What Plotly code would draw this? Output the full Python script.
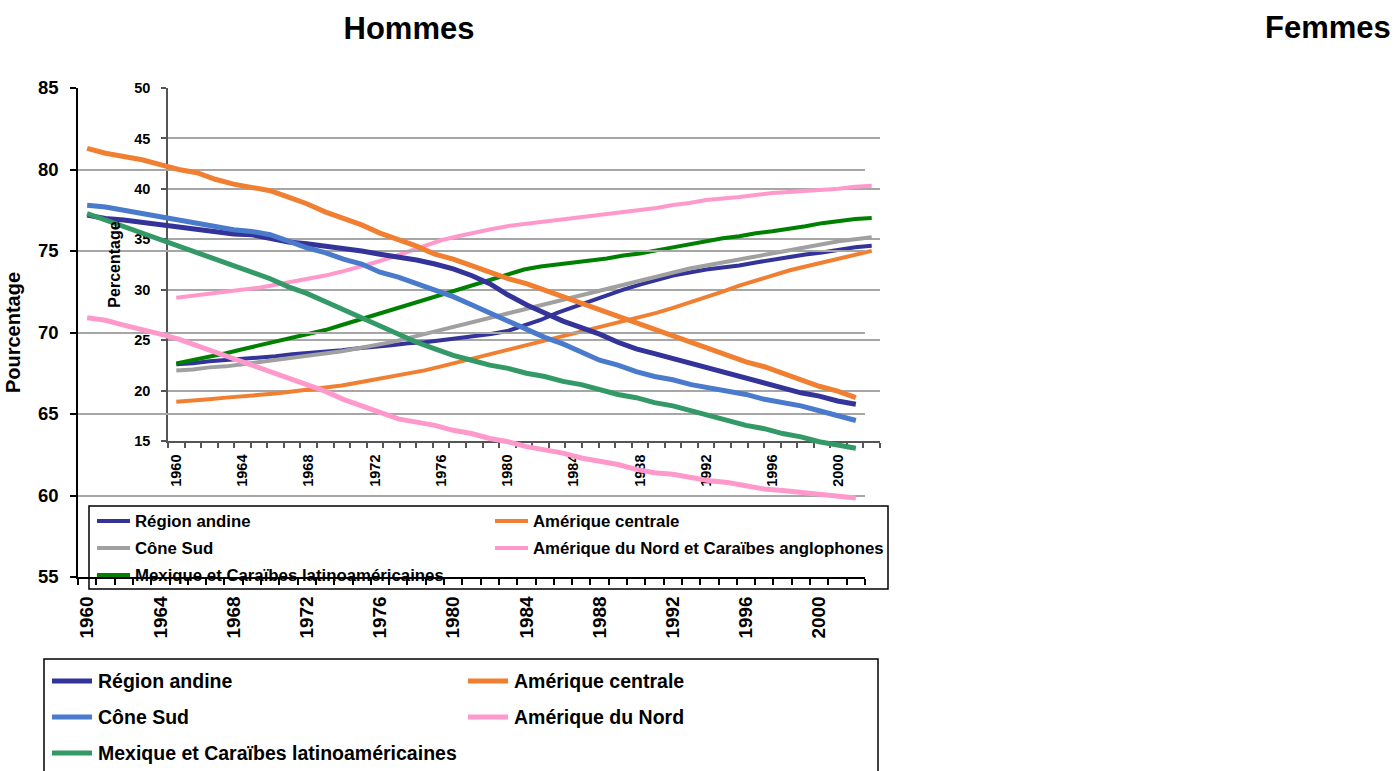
import plotly.graph_objects as go

W, H = 1396, 771

years = list(range(1960, 2003))
tick_years = list(range(1960, 2001, 4))
tick_labels = [str(y) for y in tick_years]

# ---- Hommes (outer chart, 55-85) ----
andine_h = [77.2, 77.0, 76.9, 76.75, 76.65, 76.5, 76.3, 76.2, 76.05, 76.0, 75.75, 75.55, 75.45, 75.3, 75.2,
            75.0, 74.8, 74.65, 74.45, 74.2, 73.9, 73.5, 73.0, 72.3, 71.7, 71.2, 70.7, 70.3, 69.9, 69.4,
            69.0, 68.7, 68.4, 68.1, 67.8, 67.5, 67.2, 66.9, 66.6, 66.3, 66.1, 65.8, 65.6]
amc_h = [81.3, 81.0, 80.8, 80.6, 80.3, 80.0, 79.8, 79.4, 79.1, 78.9, 78.7, 78.3, 77.9, 77.4, 77.0,
         76.6, 76.1, 75.7, 75.3, 74.8, 74.5, 74.1, 73.7, 73.3, 73.0, 72.6, 72.2, 71.8, 71.4, 71.0,
         70.6, 70.2, 69.8, 69.4, 69.0, 68.6, 68.2, 67.9, 67.5, 67.1, 66.7, 66.4, 66.0]
cone_h = [77.8, 77.7, 77.5, 77.3, 77.1, 76.9, 76.75, 76.5, 76.3, 76.2, 76.0, 75.6, 75.2, 74.9, 74.5,
          74.2, 73.7, 73.4, 73.0, 72.6, 72.2, 71.7, 71.2, 70.7, 70.2, 69.7, 69.3, 68.8, 68.3, 68.0,
          67.6, 67.3, 67.1, 66.8, 66.6, 66.4, 66.2, 65.9, 65.7, 65.5, 65.2, 64.9, 64.6]
nord_h = [70.9, 70.75, 70.45, 70.2, 69.9, 69.6, 69.2, 68.8, 68.4, 68.0, 67.6, 67.2, 66.8, 66.4, 65.9,
          65.5, 65.1, 64.7, 64.5, 64.3, 64.0, 63.8, 63.5, 63.3, 63.0, 62.8, 62.6, 62.3, 62.1, 61.9,
          61.6, 61.4, 61.3, 61.1, 60.9, 60.8, 60.6, 60.4, 60.3, 60.2, 60.1, 60.0, 59.85]
mex_h = [77.3, 76.9, 76.5, 76.1, 75.7, 75.3, 74.9, 74.5, 74.1, 73.7, 73.3, 72.8, 72.4, 71.9, 71.4,
         70.9, 70.4, 69.9, 69.4, 69.0, 68.6, 68.3, 68.0, 67.8, 67.5, 67.3, 67.0, 66.8, 66.5, 66.2,
         66.0, 65.7, 65.5, 65.2, 64.9, 64.6, 64.3, 64.1, 63.8, 63.6, 63.3, 63.1, 62.9]

# ---- Femmes (inner chart, 15-50) ----
andine_f = [22.6, 22.7, 22.9, 23.0, 23.2, 23.3, 23.4, 23.6, 23.7, 23.9, 24.0, 24.2, 24.3, 24.5, 24.7,
            24.8, 25.0, 25.2, 25.4, 25.6, 25.9, 26.4, 27.0, 27.7, 28.3, 28.9, 29.5, 30.0, 30.5, 31.0,
            31.4, 31.7, 32.0, 32.2, 32.4, 32.7, 33.0, 33.2, 33.5, 33.7, 34.0, 34.2, 34.35]
amc_f = [18.9, 19.0, 19.15, 19.3, 19.4, 19.55, 19.7, 19.9, 20.1, 20.3, 20.5, 20.8, 21.1, 21.4, 21.7,
         22.0, 22.4, 22.8, 23.2, 23.6, 24.0, 24.4, 24.8, 25.2, 25.6, 26.0, 26.4, 26.8, 27.3, 27.7,
         28.2, 28.7, 29.3, 29.8, 30.4, 30.9, 31.5, 31.9, 32.3, 32.7, 33.1, 33.5, 33.85]
cone_f = [22.0, 22.1, 22.3, 22.4, 22.6, 22.8, 23.0, 23.2, 23.4, 23.6, 23.9, 24.2, 24.5, 24.8, 25.2,
          25.6, 26.0, 26.4, 26.8, 27.2, 27.7, 28.1, 28.5, 28.9, 29.3, 29.7, 30.1, 30.5, 30.9, 31.3,
          31.7, 32.1, 32.4, 32.7, 33.0, 33.3, 33.6, 33.9, 34.2, 34.5, 34.8, 35.0, 35.2]
nord_f = [29.2, 29.4, 29.6, 29.8, 30.0, 30.2, 30.5, 30.8, 31.1, 31.4, 31.8, 32.2, 32.7, 33.2, 33.8,
          34.4, 34.9, 35.3, 35.7, 36.0, 36.3, 36.5, 36.7, 36.9, 37.1, 37.3, 37.5, 37.7, 37.9, 38.1,
          38.4, 38.6, 38.9, 39.0, 39.2, 39.4, 39.6, 39.7, 39.8, 39.9, 40.0, 40.2, 40.3]
mex_f = [22.7, 23.0, 23.4, 23.7, 24.1, 24.5, 24.9, 25.2, 25.6, 26.0, 26.5, 27.0, 27.5, 28.0, 28.5,
         29.0, 29.5, 30.1, 30.6, 31.1, 31.6, 32.0, 32.3, 32.5, 32.7, 32.9, 33.1, 33.4, 33.6, 33.9,
         34.2, 34.5, 34.8, 35.1, 35.3, 35.6, 35.8, 36.1, 36.3, 36.6, 36.8, 37.0, 37.1]

outer_names = ["Région andine", "Amérique centrale", "Cône Sud", "Amérique du Nord",
               "Mexique et Caraïbes latinoaméricaines"]
outer_series = [andine_h, amc_h, cone_h, nord_h, mex_h]
outer_colors = ["#333399", "#F07F32", "#4A7ACB", "#FF99CC", "#339966"]

inner_names = ["Région andine", "Amérique centrale", "Cône Sud",
               "Amérique du Nord et Caraïbes anglophones", "Mexique et Caraïbes latinoaméricaines"]
inner_series = [andine_f, amc_f, cone_f, nord_f, mex_f]
inner_colors = ["#333399", "#F07F32", "#A0A0A0", "#FF99CC", "#008000"]

FONT = "Liberation Sans, Arial, sans-serif"


def fx(px):
    return px / W


def fy(py):
    return 1 - py / H


fig = go.Figure()

# inner chart first (drawn underneath), outer chart on top
for name, vals, col in zip(inner_names, inner_series, inner_colors):
    fig.add_trace(go.Scatter(x=years, y=vals, mode="lines", name=name,
                             line=dict(color=col, width=4), xaxis="x", yaxis="y",
                             showlegend=False))
for name, vals, col in zip(outer_names, outer_series, outer_colors):
    fig.add_trace(go.Scatter(x=years, y=vals, mode="lines", name=name,
                             line=dict(color=col, width=5), xaxis="x2", yaxis="y2",
                             showlegend=False))


def bold(s, c="black"):
    return dict(family=FONT, size=s, color=c, weight="bold")


fig.update_layout(
    width=W, height=H,
    margin=dict(l=0, r=0, t=0, b=0, pad=0, autoexpand=False),
    paper_bgcolor="white", plot_bgcolor="rgba(0,0,0,0)",
    showlegend=False,
    title=dict(text="Hommes", x=fx(409), y=fy(28), xref="container", yref="container",
               xanchor="center", yanchor="middle", font=bold(31)),
    # inner axes
    xaxis=dict(domain=[fx(168), fx(880)], anchor="y", range=[1959.5, 2002.5],
               tickmode="array", tickvals=tick_years, ticktext=tick_labels, tickangle=-90,
               ticks="", showgrid=False, zeroline=False, automargin=False,
               showline=True, linecolor="#555555", linewidth=1.5,
               minor=dict(ticks="outside", tick0=1959.5, dtick=1, ticklen=5,
                          tickcolor="#555555", tickwidth=1.5, showgrid=False),
               tickfont=bold(14.5), ticklabelstandoff=6),
    yaxis=dict(domain=[fy(441), fy(88)], anchor="x", range=[15, 50], dtick=5,
               showgrid=True, gridcolor="#A6A6A6", gridwidth=1.5, zeroline=False,
               showline=True, linecolor="#555555", linewidth=1.5, automargin=False,
               ticks="outside", ticklen=5, tickcolor="#555555", tickwidth=1.5,
               tickfont=bold(14.5), ticklabelstandoff=8,
               title=dict(text="Percentage", font=bold(16), standoff=10)),
    # outer axes
    xaxis2=dict(domain=[fx(78), fx(865)], anchor="y2", range=[1959.5, 2002.5],
                tickmode="array", tickvals=tick_years, ticktext=tick_labels, tickangle=-90,
                ticks="", showgrid=False, zeroline=False, automargin=False,
                showline=True, linecolor="black", linewidth=1.5,
                minor=dict(ticks="outside", tick0=1959.5, dtick=1, ticklen=6,
                           tickcolor="black", tickwidth=1.5, showgrid=False),
                tickfont=bold(19), ticklabelstandoff=10),
    yaxis2=dict(domain=[fy(577), fy(88)], anchor="x2", range=[55, 85], dtick=5,
                showgrid=True, gridcolor="#A6A6A6", gridwidth=1.5, zeroline=False,
                showline=True, linecolor="black", linewidth=1.5, automargin=False,
                ticks="outside", ticklen=6, tickcolor="black", tickwidth=1.5,
                tickfont=bold(18.5), ticklabelstandoff=8,
                title=dict(text="Pourcentage", font=bold(20), standoff=12)),
)

# "Femmes" title of the second (empty) panel
fig.add_annotation(text="Femmes", x=fx(1328), y=fy(28), xref="paper", yref="paper",
                   xanchor="center", yanchor="middle", showarrow=False, font=bold(31))

# ---- hand-drawn legends ----
shapes = []
annotations = []

# inner legend box
shapes.append(dict(type="rect", xref="paper", yref="paper", x0=fx(89), x1=fx(888),
                   y0=fy(589), y1=fy(506), line=dict(color="black", width=1.5),
                   fillcolor="rgba(0,0,0,0)", layer="above"))
inner_pos = [(97, 521), (495, 521), (97, 548), (495, 548), (97, 575)]
for (lx, ly), name, col in zip(inner_pos, inner_names, inner_colors):
    shapes.append(dict(type="line", xref="paper", yref="paper", x0=fx(lx), x1=fx(lx + 33),
                       y0=fy(ly), y1=fy(ly), line=dict(color=col, width=4), layer="above"))
    annotations.append(dict(text=name, x=fx(lx + 36), y=fy(ly), xref="paper", yref="paper",
                            xanchor="left", yanchor="middle", showarrow=False, font=bold(16.8)))

# outer legend box
shapes.append(dict(type="rect", xref="paper", yref="paper", x0=fx(44), x1=fx(878),
                   y0=fy(785), y1=fy(659), line=dict(color="black", width=1.5),
                   fillcolor="rgba(0,0,0,0)", layer="above"))
outer_pos = [(52, 681), (468, 681), (52, 717), (468, 717), (52, 753)]
for (lx, ly), name, col in zip(outer_pos, outer_names, outer_colors):
    shapes.append(dict(type="line", xref="paper", yref="paper", x0=fx(lx), x1=fx(lx + 40),
                       y0=fy(ly), y1=fy(ly), line=dict(color=col, width=5), layer="above"))
    annotations.append(dict(text=name, x=fx(lx + 44), y=fy(ly), xref="paper", yref="paper",
                            xanchor="left", yanchor="middle", showarrow=False, font=bold(19.5)))

fig.update_layout(shapes=shapes)
for a in annotations:
    fig.add_annotation(**a)

fig.write_html("out.html", config={"displayModeBar": False},
               post_script="document.body.style.margin='0';document.body.style.overflow='hidden';")
